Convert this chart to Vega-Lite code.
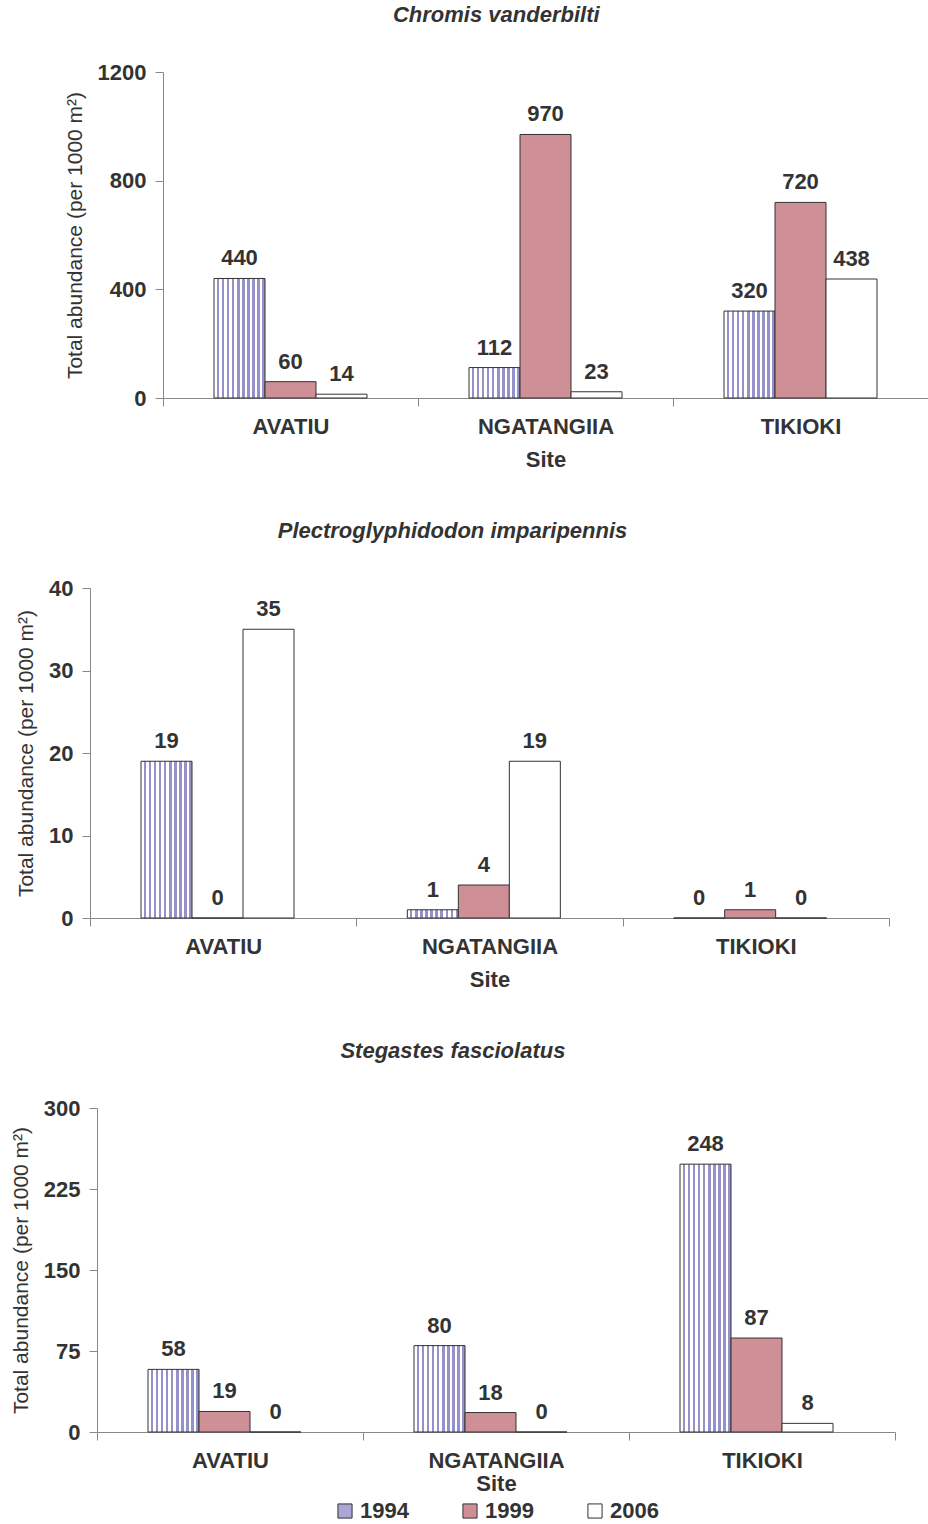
{
  "$schema": "https://vega.github.io/schema/vega-lite/v6.json",
  "padding": {"left": 0, "top": 4, "right": 0, "bottom": 0},
  "background": "white",
  "datasets": {
    "fish": [
      {"species": "Chromis vanderbilti", "site": "AVATIU", "year": "1994", "value": 440},
      {"species": "Chromis vanderbilti", "site": "AVATIU", "year": "1999", "value": 60},
      {"species": "Chromis vanderbilti", "site": "AVATIU", "year": "2006", "value": 14},
      {"species": "Chromis vanderbilti", "site": "NGATANGIIA", "year": "1994", "value": 112},
      {"species": "Chromis vanderbilti", "site": "NGATANGIIA", "year": "1999", "value": 970},
      {"species": "Chromis vanderbilti", "site": "NGATANGIIA", "year": "2006", "value": 23},
      {"species": "Chromis vanderbilti", "site": "TIKIOKI", "year": "1994", "value": 320},
      {"species": "Chromis vanderbilti", "site": "TIKIOKI", "year": "1999", "value": 720},
      {"species": "Chromis vanderbilti", "site": "TIKIOKI", "year": "2006", "value": 438},
      {"species": "Plectroglyphidodon imparipennis", "site": "AVATIU", "year": "1994", "value": 19},
      {"species": "Plectroglyphidodon imparipennis", "site": "AVATIU", "year": "1999", "value": 0},
      {"species": "Plectroglyphidodon imparipennis", "site": "AVATIU", "year": "2006", "value": 35},
      {"species": "Plectroglyphidodon imparipennis", "site": "NGATANGIIA", "year": "1994", "value": 1},
      {"species": "Plectroglyphidodon imparipennis", "site": "NGATANGIIA", "year": "1999", "value": 4},
      {"species": "Plectroglyphidodon imparipennis", "site": "NGATANGIIA", "year": "2006", "value": 19},
      {"species": "Plectroglyphidodon imparipennis", "site": "TIKIOKI", "year": "1994", "value": 0},
      {"species": "Plectroglyphidodon imparipennis", "site": "TIKIOKI", "year": "1999", "value": 1},
      {"species": "Plectroglyphidodon imparipennis", "site": "TIKIOKI", "year": "2006", "value": 0},
      {"species": "Stegastes fasciolatus", "site": "AVATIU", "year": "1994", "value": 58},
      {"species": "Stegastes fasciolatus", "site": "AVATIU", "year": "1999", "value": 19},
      {"species": "Stegastes fasciolatus", "site": "AVATIU", "year": "2006", "value": 0},
      {"species": "Stegastes fasciolatus", "site": "NGATANGIIA", "year": "1994", "value": 80},
      {"species": "Stegastes fasciolatus", "site": "NGATANGIIA", "year": "1999", "value": 18},
      {"species": "Stegastes fasciolatus", "site": "NGATANGIIA", "year": "2006", "value": 0},
      {"species": "Stegastes fasciolatus", "site": "TIKIOKI", "year": "1994", "value": 248},
      {"species": "Stegastes fasciolatus", "site": "TIKIOKI", "year": "1999", "value": 87},
      {"species": "Stegastes fasciolatus", "site": "TIKIOKI", "year": "2006", "value": 8}
    ]
  },
  "config": {
    "font": "Liberation Sans",
    "view": {"stroke": null},
    "axis": {
      "labelFont": "Liberation Sans",
      "labelFontSize": 22,
      "labelFontWeight": "bold",
      "labelColor": "#333333",
      "titleFont": "Liberation Sans",
      "titleColor": "#333333",
      "domainColor": "#888888",
      "tickColor": "#888888",
      "tickSize": 8,
      "grid": false
    },
    "axisX": {"labelAngle": 0, "labelPadding": 10, "titleFontSize": 22, "titleFontWeight": "bold", "titlePadding": 12, "tickBand": "extent"},
    "axisY": {"titleFontSize": 21, "titleFontWeight": "normal", "labelPadding": 9, "titlePadding": 12, "format": "d"},
    "legend": {
      "layout": {"bottom": {"anchor": "middle"}},
      "labelFont": "Liberation Sans",
      "labelFontSize": 22,
      "labelFontWeight": "bold",
      "labelColor": "#333333",
      "symbolType": "square",
      "symbolSize": 200,
      "symbolStrokeColor": "#333333",
      "symbolStrokeWidth": 1,
      "columnPadding": 50,
      "labelOffset": 4,
      "offset": 6
    },
    "title": {"font": "Liberation Sans", "fontSize": 22, "fontWeight": "bold", "fontStyle": "italic", "color": "#333333", "anchor": "middle", "frame": "bounds", "offset": 34}
  },
  "spacing": 50,
  "resolve": {"scale": {"fill": "independent"}, "legend": {"fill": "independent"}},
  "vconcat": [
    {
      "spacing": 0,
      "resolve": {"scale": {"fill": "independent"}, "legend": {"fill": "independent"}},
      "hconcat": [
        {"width": 64, "height": 1, "data": {"values": []}, "mark": {"type": "point", "opacity": 0}},
        {
          "width": 765, "height": 326,
          "title": "Chromis vanderbilti",
          "data": {"name": "fish"},
          "transform": [{"filter": "datum.species === 'Chromis vanderbilti'"}],
          "encoding": {
            "x": {"field": "site", "type": "nominal", "sort": ["AVATIU", "NGATANGIIA", "TIKIOKI"], "scale": {"paddingInner": 0, "paddingOuter": 0}, "axis": {"title": "Site"}},
            "xOffset": {"field": "year", "type": "nominal", "sort": ["1994", "1999", "2006"], "scale": {"paddingInner": 0, "paddingOuter": 1.5}},
            "y": {"field": "value", "type": "quantitative", "scale": {"domain": [0, 1200]}, "axis": {"values": [0, 400, 800, 1200], "title": "Total abundance (per 1000 m²)"}}
          },
          "layer": [
            {
              "mark": {"type": "bar", "stroke": "#333333", "strokeWidth": 1},
              "encoding": {
                "fill": {
                  "condition": {"test": "datum.year === '1994'", "value": {"gradient": "linear", "x1": 0, "y1": 0, "x2": 1, "y2": 0, "stops": [
                    {"offset": 0, "color": "#ffffff"}, {"offset": 0.05, "color": "#ffffff"}, {"offset": 0.05, "color": "#9592c9"}, {"offset": 0.1, "color": "#9592c9"},
                    {"offset": 0.1, "color": "#ffffff"}, {"offset": 0.15, "color": "#ffffff"}, {"offset": 0.15, "color": "#9592c9"}, {"offset": 0.2, "color": "#9592c9"},
                    {"offset": 0.2, "color": "#ffffff"}, {"offset": 0.25, "color": "#ffffff"}, {"offset": 0.25, "color": "#9592c9"}, {"offset": 0.3, "color": "#9592c9"},
                    {"offset": 0.3, "color": "#ffffff"}, {"offset": 0.35, "color": "#ffffff"}, {"offset": 0.35, "color": "#9592c9"}, {"offset": 0.4, "color": "#9592c9"},
                    {"offset": 0.4, "color": "#ffffff"}, {"offset": 0.45, "color": "#ffffff"}, {"offset": 0.45, "color": "#9592c9"}, {"offset": 0.5, "color": "#9592c9"},
                    {"offset": 0.5, "color": "#ffffff"}, {"offset": 0.55, "color": "#ffffff"}, {"offset": 0.55, "color": "#9592c9"}, {"offset": 0.6, "color": "#9592c9"},
                    {"offset": 0.6, "color": "#ffffff"}, {"offset": 0.65, "color": "#ffffff"}, {"offset": 0.65, "color": "#9592c9"}, {"offset": 0.7, "color": "#9592c9"},
                    {"offset": 0.7, "color": "#ffffff"}, {"offset": 0.75, "color": "#ffffff"}, {"offset": 0.75, "color": "#9592c9"}, {"offset": 0.8, "color": "#9592c9"},
                    {"offset": 0.8, "color": "#ffffff"}, {"offset": 0.85, "color": "#ffffff"}, {"offset": 0.85, "color": "#9592c9"}, {"offset": 0.9, "color": "#9592c9"},
                    {"offset": 0.9, "color": "#ffffff"}, {"offset": 0.95, "color": "#ffffff"}, {"offset": 0.95, "color": "#9592c9"}, {"offset": 1, "color": "#9592c9"}
                  ]}},
                  "field": "year", "type": "nominal",
                  "scale": {"domain": ["1994", "1999", "2006"], "range": ["#a9a7d6", "#cf8f97", "#ffffff"]},
                  "legend": null
                }
              }
            },
            {
              "mark": {"type": "text", "baseline": "bottom", "dy": -8, "fontSize": 22, "fontWeight": "bold", "color": "#333333"},
              "encoding": {"text": {"field": "value", "type": "quantitative"}}
            }
          ]
        }
      ]
    },
    {
      "spacing": 0,
      "resolve": {"scale": {"fill": "independent"}, "legend": {"fill": "independent"}},
      "hconcat": [
        {"width": 15, "height": 1, "data": {"values": []}, "mark": {"type": "point", "opacity": 0}},
        {
          "width": 799, "height": 330,
          "title": "Plectroglyphidodon imparipennis",
          "data": {"name": "fish"},
          "transform": [{"filter": "datum.species === 'Plectroglyphidodon imparipennis'"}],
          "encoding": {
            "x": {"field": "site", "type": "nominal", "sort": ["AVATIU", "NGATANGIIA", "TIKIOKI"], "scale": {"paddingInner": 0, "paddingOuter": 0}, "axis": {"title": "Site"}},
            "xOffset": {"field": "year", "type": "nominal", "sort": ["1994", "1999", "2006"], "scale": {"paddingInner": 0, "paddingOuter": 1.5}},
            "y": {"field": "value", "type": "quantitative", "scale": {"domain": [0, 40]}, "axis": {"values": [0, 10, 20, 30, 40], "title": "Total abundance (per 1000 m²)"}}
          },
          "layer": [
            {
              "mark": {"type": "bar", "stroke": "#333333", "strokeWidth": 1},
              "encoding": {
                "fill": {
                  "condition": {"test": "datum.year === '1994'", "value": {"gradient": "linear", "x1": 0, "y1": 0, "x2": 1, "y2": 0, "stops": [
                    {"offset": 0, "color": "#ffffff"}, {"offset": 0.05, "color": "#ffffff"}, {"offset": 0.05, "color": "#9592c9"}, {"offset": 0.1, "color": "#9592c9"},
                    {"offset": 0.1, "color": "#ffffff"}, {"offset": 0.15, "color": "#ffffff"}, {"offset": 0.15, "color": "#9592c9"}, {"offset": 0.2, "color": "#9592c9"},
                    {"offset": 0.2, "color": "#ffffff"}, {"offset": 0.25, "color": "#ffffff"}, {"offset": 0.25, "color": "#9592c9"}, {"offset": 0.3, "color": "#9592c9"},
                    {"offset": 0.3, "color": "#ffffff"}, {"offset": 0.35, "color": "#ffffff"}, {"offset": 0.35, "color": "#9592c9"}, {"offset": 0.4, "color": "#9592c9"},
                    {"offset": 0.4, "color": "#ffffff"}, {"offset": 0.45, "color": "#ffffff"}, {"offset": 0.45, "color": "#9592c9"}, {"offset": 0.5, "color": "#9592c9"},
                    {"offset": 0.5, "color": "#ffffff"}, {"offset": 0.55, "color": "#ffffff"}, {"offset": 0.55, "color": "#9592c9"}, {"offset": 0.6, "color": "#9592c9"},
                    {"offset": 0.6, "color": "#ffffff"}, {"offset": 0.65, "color": "#ffffff"}, {"offset": 0.65, "color": "#9592c9"}, {"offset": 0.7, "color": "#9592c9"},
                    {"offset": 0.7, "color": "#ffffff"}, {"offset": 0.75, "color": "#ffffff"}, {"offset": 0.75, "color": "#9592c9"}, {"offset": 0.8, "color": "#9592c9"},
                    {"offset": 0.8, "color": "#ffffff"}, {"offset": 0.85, "color": "#ffffff"}, {"offset": 0.85, "color": "#9592c9"}, {"offset": 0.9, "color": "#9592c9"},
                    {"offset": 0.9, "color": "#ffffff"}, {"offset": 0.95, "color": "#ffffff"}, {"offset": 0.95, "color": "#9592c9"}, {"offset": 1, "color": "#9592c9"}
                  ]}},
                  "field": "year", "type": "nominal",
                  "scale": {"domain": ["1994", "1999", "2006"], "range": ["#a9a7d6", "#cf8f97", "#ffffff"]},
                  "legend": null
                }
              }
            },
            {
              "mark": {"type": "text", "baseline": "bottom", "dy": -8, "fontSize": 22, "fontWeight": "bold", "color": "#333333"},
              "encoding": {"text": {"field": "value", "type": "quantitative"}}
            }
          ]
        }
      ]
    },
    {
      "spacing": 0,
      "resolve": {"scale": {"fill": "independent"}, "legend": {"fill": "independent"}},
      "hconcat": [
        {"width": 10, "height": 1, "data": {"values": []}, "mark": {"type": "point", "opacity": 0}},
        {
          "width": 798, "height": 324,
          "title": "Stegastes fasciolatus",
          "data": {"name": "fish"},
          "transform": [{"filter": "datum.species === 'Stegastes fasciolatus'"}],
          "encoding": {
            "x": {"field": "site", "type": "nominal", "sort": ["AVATIU", "NGATANGIIA", "TIKIOKI"], "scale": {"paddingInner": 0, "paddingOuter": 0}, "axis": {"title": "Site", "titlePadding": 2}},
            "xOffset": {"field": "year", "type": "nominal", "sort": ["1994", "1999", "2006"], "scale": {"paddingInner": 0, "paddingOuter": 1.5}},
            "y": {"field": "value", "type": "quantitative", "scale": {"domain": [0, 300]}, "axis": {"values": [0, 75, 150, 225, 300], "title": "Total abundance (per 1000 m²)"}}
          },
          "layer": [
            {
              "mark": {"type": "bar", "stroke": "#333333", "strokeWidth": 1},
              "encoding": {
                "fill": {
                  "condition": {"test": "datum.year === '1994'", "value": {"gradient": "linear", "x1": 0, "y1": 0, "x2": 1, "y2": 0, "stops": [
                    {"offset": 0, "color": "#ffffff"}, {"offset": 0.05, "color": "#ffffff"}, {"offset": 0.05, "color": "#9592c9"}, {"offset": 0.1, "color": "#9592c9"},
                    {"offset": 0.1, "color": "#ffffff"}, {"offset": 0.15, "color": "#ffffff"}, {"offset": 0.15, "color": "#9592c9"}, {"offset": 0.2, "color": "#9592c9"},
                    {"offset": 0.2, "color": "#ffffff"}, {"offset": 0.25, "color": "#ffffff"}, {"offset": 0.25, "color": "#9592c9"}, {"offset": 0.3, "color": "#9592c9"},
                    {"offset": 0.3, "color": "#ffffff"}, {"offset": 0.35, "color": "#ffffff"}, {"offset": 0.35, "color": "#9592c9"}, {"offset": 0.4, "color": "#9592c9"},
                    {"offset": 0.4, "color": "#ffffff"}, {"offset": 0.45, "color": "#ffffff"}, {"offset": 0.45, "color": "#9592c9"}, {"offset": 0.5, "color": "#9592c9"},
                    {"offset": 0.5, "color": "#ffffff"}, {"offset": 0.55, "color": "#ffffff"}, {"offset": 0.55, "color": "#9592c9"}, {"offset": 0.6, "color": "#9592c9"},
                    {"offset": 0.6, "color": "#ffffff"}, {"offset": 0.65, "color": "#ffffff"}, {"offset": 0.65, "color": "#9592c9"}, {"offset": 0.7, "color": "#9592c9"},
                    {"offset": 0.7, "color": "#ffffff"}, {"offset": 0.75, "color": "#ffffff"}, {"offset": 0.75, "color": "#9592c9"}, {"offset": 0.8, "color": "#9592c9"},
                    {"offset": 0.8, "color": "#ffffff"}, {"offset": 0.85, "color": "#ffffff"}, {"offset": 0.85, "color": "#9592c9"}, {"offset": 0.9, "color": "#9592c9"},
                    {"offset": 0.9, "color": "#ffffff"}, {"offset": 0.95, "color": "#ffffff"}, {"offset": 0.95, "color": "#9592c9"}, {"offset": 1, "color": "#9592c9"}
                  ]}},
                  "field": "year", "type": "nominal",
                  "scale": {"domain": ["1994", "1999", "2006"], "range": ["#a9a7d6", "#cf8f97", "#ffffff"]},
                  "legend": {"title": null, "orient": "bottom", "direction": "horizontal"}
                }
              }
            },
            {
              "mark": {"type": "text", "baseline": "bottom", "dy": -8, "fontSize": 22, "fontWeight": "bold", "color": "#333333"},
              "encoding": {"text": {"field": "value", "type": "quantitative"}}
            }
          ]
        }
      ]
    }
  ]
}
